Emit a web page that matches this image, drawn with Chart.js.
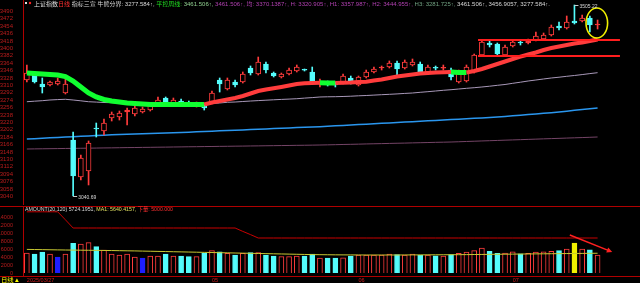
<!DOCTYPE html>
<html>
<head>
<meta charset="utf-8">
<script src="https://cdn.jsdelivr.net/npm/chart.js@4.4.1/dist/chart.umd.min.js"></script>
<style>
html, body { margin: 0; padding: 0; background: #000; overflow: hidden; }
#wrap { position: relative; width: 640px; height: 283px; }
#priceBox { position: absolute; left: 0; top: 0; width: 640px; height: 205px; }
#volBox { position: absolute; left: 0; top: 205px; width: 640px; height: 78px; }
</style>
</head>
<body>
<div id="wrap">
  <div id="priceBox"><canvas id="priceChart"></canvas></div>
  <div id="volBox"><canvas id="volChart"></canvas></div>
</div>
<script>
// trading days
const dates = ['2025/03/27','2025/03/28','2025/03/31','2025/04/01','2025/04/02','2025/04/03','2025/04/07','2025/04/08','2025/04/09','2025/04/10','2025/04/11','2025/04/14','2025/04/15','2025/04/16','2025/04/17','2025/04/18','2025/04/21','2025/04/22','2025/04/23','2025/04/24','2025/04/25','2025/04/28','2025/04/29','2025/04/30','2025/05/06','2025/05/07','2025/05/08','2025/05/09','2025/05/12','2025/05/13','2025/05/14','2025/05/15','2025/05/16','2025/05/19','2025/05/20','2025/05/21','2025/05/22','2025/05/23','2025/05/26','2025/05/27','2025/05/28','2025/05/29','2025/05/30','2025/06/03','2025/06/04','2025/06/05','2025/06/06','2025/06/09','2025/06/10','2025/06/11','2025/06/12','2025/06/13','2025/06/16','2025/06/17','2025/06/18','2025/06/19','2025/06/20','2025/06/23','2025/06/24','2025/06/25','2025/06/26','2025/06/27','2025/06/30','2025/07/01','2025/07/02','2025/07/03','2025/07/04','2025/07/07','2025/07/08','2025/07/09','2025/07/10','2025/07/11','2025/07/14','2025/07/15','2025/07/16'];
const emptySlots = 5;

const opens = [3322.8,3335.0,3313.1,3310.7,3313.1,3291.2,3176.9,3086.9,3101.5,3206.1,
  3198.8,3230.4,3232.8,3245.0,3240.1,3245.0,3249.8,3266.9,3279.0,3266.9,
  3271.7,3266.9,3259.6,3259.6,3266.9,3322.8,3300.9,3317.9,3317.9,3352.0,
  3337.4,3361.7,3339.8,3330.1,3337.4,3344.7,3347.1,3342.3,3315.5,3316.0,
  3313.1,3315.5,3327.7,3310.7,3330.1,3342.3,3352.0,3354.4,3364.2,3352.0,
  3359.3,3361.7,3342.3,3352.0,3351.5,3347.1,3317.9,3320.4,3342.3,3383.6,
  3412.8,3410.4,3383.6,3405.5,3415.2,3412.8,3420.1,3422.5,3432.3,3454.1,
  3449.3,3466.3,3466.3,3473.6,3456.6];
const highs = [3359.3,3339.8,3327.7,3320.4,3327.7,3327.7,3196.4,3140.4,3174.5,3218.2,
  3228.0,3245.0,3247.4,3254.7,3259.6,3257.1,3266.9,3281.5,3281.5,3279.0,
  3276.6,3271.7,3269.3,3262.0,3296.1,3327.7,3327.7,3322.8,3342.3,3356.9,
  3378.7,3366.6,3342.3,3339.8,3352.0,3359.3,3349.6,3354.4,3325.2,3320.4,
  3317.9,3337.4,3332.5,3332.5,3347.1,3354.4,3356.9,3369.1,3369.1,3371.5,
  3373.9,3366.6,3359.3,3356.9,3359.3,3352.0,3347.1,3359.3,3386.0,3420.1,
  3417.7,3412.8,3407.9,3420.1,3420.1,3422.5,3439.5,3437.1,3456.6,3463.9,
  3478.5,3505.22,3480.9,3478.5,3468.7];
const lows = [3317.9,3315.5,3291.2,3308.2,3310.7,3288.8,3040.69,3079.6,3067.5,3184.2,
  3189.1,3223.1,3225.5,3213.4,3235.3,3242.6,3247.4,3262.0,3266.9,3264.4,
  3264.4,3259.6,3257.1,3249.8,3264.4,3293.6,3298.5,3305.8,3315.5,3335.0,
  3335.0,3339.8,3330.1,3327.7,3335.0,3342.3,3344.7,3313.1,3305.8,3308.2,
  3305.8,3313.1,3313.1,3308.2,3327.7,3339.8,3347.1,3352.0,3335.0,3349.6,
  3356.9,3337.4,3339.8,3347.1,3347.1,3322.8,3315.5,3317.9,3339.8,3381.2,
  3403.1,3383.6,3381.2,3403.1,3407.9,3410.4,3417.7,3420.1,3429.8,3444.4,
  3446.8,3459.0,3463.9,3439.5,3446.8];
const closes = [3339.8,3317.9,3305.8,3317.9,3320.4,3313.1,3089.4,3133.1,3169.6,3203.6,
  3218.2,3240.1,3242.6,3249.8,3254.7,3252.3,3262.0,3274.2,3269.3,3274.2,
  3269.3,3266.0,3266.9,3254.7,3291.2,3313.1,3322.8,3310.7,3337.4,3339.8,
  3366.6,3347.1,3332.5,3337.4,3347.1,3354.4,3346.5,3315.5,3316.0,3315.5,
  3310.7,3332.5,3315.5,3330.1,3342.3,3349.6,3352.5,3364.2,3349.6,3366.6,
  3366.6,3342.3,3354.4,3351.5,3352.0,3330.1,3342.3,3354.4,3383.6,3415.2,
  3407.9,3386.0,3403.1,3415.2,3412.8,3417.7,3429.8,3432.3,3451.7,3449.3,
  3463.9,3461.4,3473.6,3456.6,3459.0];

// moving lines of the price pane
const trendLine = [3339.8,3338.6,3337.4,3336.2,3335.0,3331.3,3320.4,3305.8,3291.2,3281.5,
  3275.4,3271.7,3269.3,3266.9,3265.7,3264.4,3263.2,3263.2,3263.2,3263.2,
  3263.2,3263.2,3263.2,3263.2,3268.1,3271.7,3275.4,3279.0,3283.9,3290.0,
  3296.1,3299.7,3302.6,3305.8,3309.4,3313.1,3314.8,3315.8,3316.3,3315.5,
  3315.5,3316.3,3316.7,3317.9,3318.7,3321.6,3324.0,3327.7,3331.3,3333.8,
  3336.2,3338.6,3339.8,3341.1,3341.8,3342.3,3341.1,3341.1,3344.7,3349.6,
  3355.7,3361.7,3367.8,3373.9,3379.5,3384.8,3389.7,3395.8,3400.6,3404.3,
  3407.9,3411.6,3414.0,3417.7,3421.3];
const ma60 = [3270.0,3271.3,3272.5,3274.2,3275.2,3275.9,3274.2,3272.2,3270.0,3269.1,
  3268.1,3267.6,3267.1,3266.4,3265.9,3265.2,3264.4,3263.9,3263.7,3263.2,
  3263.2,3263.5,3263.7,3264.4,3265.7,3266.9,3268.6,3269.3,3270.5,3271.7,
  3272.7,3273.7,3274.7,3275.6,3276.4,3277.3,3278.8,3280.0,3281.5,3282.0,
  3282.2,3282.7,3283.4,3284.4,3285.1,3286.1,3287.1,3288.0,3289.0,3290.2,
  3291.2,3292.9,3294.4,3296.1,3297.8,3299.2,3300.9,3302.6,3304.1,3305.8,
  3307.7,3309.9,3311.9,3314.8,3317.5,3320.4,3322.8,3325.3,3327.7,3329.6,
  3331.8,3333.8,3336.0,3338.4,3340.6];
const ma120 = [3179.3,3180.2,3181.2,3182.1,3183.0,3184.0,3184.9,3185.8,3186.8,3187.7,
  3188.7,3189.4,3190.0,3190.7,3191.4,3192.0,3192.7,3193.4,3194.0,3194.7,
  3195.4,3196.0,3196.7,3197.5,3198.3,3199.1,3199.9,3200.6,3201.4,3202.2,
  3203.0,3203.8,3204.6,3205.4,3206.2,3207.0,3207.8,3208.6,3209.4,3210.4,
  3211.4,3212.4,3213.4,3214.5,3215.5,3216.5,3217.5,3218.5,3219.5,3220.5,
  3221.5,3222.5,3223.6,3224.6,3225.6,3226.6,3227.6,3228.7,3229.7,3230.7,
  3231.8,3232.9,3234.3,3235.8,3237.3,3238.8,3240.3,3241.8,3243.3,3245.2,
  3247.1,3249.0,3250.9,3252.8,3254.7];
const ma250 = [3155.0,3155.3,3155.5,3155.8,3156.0,3156.3,3156.5,3156.8,3157.0,3157.3,
  3157.6,3157.8,3158.1,3158.4,3158.6,3158.9,3159.1,3159.4,3159.6,3159.9,
  3160.1,3160.4,3160.6,3160.9,3161.1,3161.4,3161.6,3161.9,3162.1,3162.4,
  3162.6,3162.9,3163.1,3163.4,3163.6,3163.9,3164.1,3164.4,3164.7,3165.1,
  3165.5,3166.0,3166.4,3166.8,3167.3,3167.7,3168.1,3168.6,3169.0,3169.4,
  3169.9,3170.3,3170.7,3171.2,3171.6,3172.0,3172.6,3173.3,3173.9,3174.6,
  3175.2,3175.8,3176.5,3177.1,3177.7,3178.4,3179.0,3179.7,3180.3,3180.9,
  3181.6,3182.2,3182.8,3183.5,3184.2];

// turnover pane (100 million yuan)
const amounts = [5000,4750,5250,4750,4000,4750,7400,7250,7600,6600,
  5750,4750,4500,4750,4000,3750,4250,4250,4750,4250,
  4250,4100,4100,4900,5600,5300,4900,4500,4900,5100,
  5100,4500,4250,4100,4100,4250,4250,4750,3750,3750,
  3750,3800,4250,4500,4500,4500,4500,4750,4600,4500,
  4700,4400,4500,4300,4200,4600,4900,5200,5600,6200,
  5400,4900,5000,5300,4800,4900,5200,5300,5400,5600,
  6000,7500,6000,5800,4500];
const amountMa = [5900,5870,5840,5810,5780,5750,5730,5700,5680,5660,
  5640,5610,5580,5550,5520,5480,5440,5400,5360,5320,
  5280,5240,5200,5160,5120,5080,5040,5000,4960,4920,
  4880,4840,4800,4760,4720,4680,4640,4600,4580,4560,
  4540,4530,4520,4510,4500,4500,4500,4500,4500,4510,
  4520,4530,4540,4550,4560,4570,4580,4600,4620,4640,
  4660,4680,4700,4720,4740,4760,4780,4800,4820,4840,
  4860,4880,4900,4920,4940];
const amountCap = [15300,15300,15300,15300,15300,13300,11250,11250,11250,11250,
  11250,11250,11250,11250,11250,11250,11250,11250,11250,11250,
  11250,11250,11250,11250,11250,11250,11250,11250,10400,9600,
  8750,8750,8750,8750,8750,8750,8750,8750,8750,8750,
  8750,8750,8750,8750,8750,8750,8750,8750,8750,8750,
  8750,8750,8750,8750,8750,8750,8750,8750,8750,8750,
  8750,8750,8750,8750,8750,8750,8750,8750,8750,8750,
  8750,8750,8750,8750,8750];
const blueBars = [4, 15];
const yellowBars = [71];

// axes
const priceTicks = [3040,3058,3076,3094,3112,3130,3148,3166,3184,3202,3220,3238,3256,3274,3292,3310,3328,3346,3364,3382,3400,3418,3436,3454,3472,3490];
const amountTicks = [0,2000,4000,6000,8000,10000,12000,14000];
const axisLabelIdx = [0, 24, 43, 63];
const axisLabelText = ['2025/03/27', '05', '06', '07'];

// drawn marks
const levels = [3420.1, 3381.2];
const levelSpan = [58.5, 76.9];
const circleSpan = [72.5, 75.3];
const circleRange = [3425, 3498];
const arrowFrom = [70.4, 9500];
const arrowTo = [75.9, 5250];

const headerParts = [
  ['上证指数', '#e0e0e0'],
  ['日线', '#ff3030'],
  [' 指标三宣 牛熊分界: 3277.584↑, ', '#d8d8d8'],
  ['平控周线: ', '#20e020'],
  ['3461.506↑, ', '#90d090'],
  ['3461.506↑, 均: 3370.1387↑, H: 3320.905↑, H1: 3357.987↑, H2: 3444.955↑, ', '#b040b0'],
  ['H3: 3281.725↑, ', '#70a080'],
  ['3461.506↑, 3456.9057, 3277.584↑.', '#d8d8d8']
];
const amountParts = [
  ['AMOUNT(20,120) 5724.1951, ', '#d8d8d8'],
  ['MA1: 5640.4157, ', '#e0e060'],
  ['下量: 5000.000', '#ff3030']
];

const RED = '#ff3c3c';
const CYAN = '#54fcfc';
const GREEN = '#10ff30';
const FRAME = '#b00000';
const FONT = '"Liberation Sans", "Noto Sans CJK SC", sans-serif';

Chart.defaults.font.family = FONT;

const labels = dates.concat(Array(emptySlots).fill(''));
const isUp = i => closes[i] >= opens[i];

function drawRun(ctx, parts, x0, x1, yMid, size) {
  ctx.save();
  ctx.font = size + 'px ' + FONT;
  ctx.textBaseline = 'middle';
  ctx.textAlign = 'left';
  const total = parts.reduce((s, p) => s + ctx.measureText(p[0]).width, 0);
  ctx.translate(x0, yMid);
  ctx.scale((x1 - x0) / total, 1);
  let cx = 0;
  parts.forEach(([t, c]) => {
    ctx.fillStyle = c;
    ctx.fillText(t, cx, 0);
    cx += ctx.measureText(t).width;
  });
  ctx.restore();
}

const fixedAxis = s => { s.width = 23; s.paddingTop = 0; s.paddingBottom = 0; };

const priceDecor = {
  id: 'priceDecor',
  afterDatasetsDraw(chart) {
    const { ctx, scales: { x, y } } = chart;
    ctx.save();
    ctx.strokeStyle = FRAME;
    ctx.lineWidth = 1;
    ctx.beginPath(); ctx.moveTo(23.5, 0); ctx.lineTo(23.5, chart.height); ctx.stroke();

    // horizontal levels
    ctx.strokeStyle = '#ff1e1e';
    ctx.lineWidth = 2;
    levels.forEach(v => {
      const py = y.getPixelForValue(v);
      ctx.beginPath();
      ctx.moveTo(x.getPixelForValue(levelSpan[0]), py);
      ctx.lineTo(x.getPixelForValue(levelSpan[1]), py);
      ctx.stroke();
    });

    // yellow ring
    const ex0 = x.getPixelForValue(circleSpan[0]), ex1 = x.getPixelForValue(circleSpan[1]);
    const ey0 = y.getPixelForValue(circleRange[1]), ey1 = y.getPixelForValue(circleRange[0]);
    ctx.strokeStyle = '#f0f000';
    ctx.lineWidth = 1.6;
    ctx.beginPath();
    ctx.ellipse((ex0 + ex1) / 2, (ey0 + ey1) / 2, (ex1 - ex0) / 2, (ey1 - ey0) / 2, 0, 0, Math.PI * 2);
    ctx.stroke();

    // high / low marks
    const hi = highs.indexOf(Math.max(...highs));
    const lo = lows.indexOf(Math.min(...lows));
    ctx.strokeStyle = '#c8c8c8';
    ctx.fillStyle = '#d8d8d8';
    ctx.lineWidth = 1;
    ctx.font = '5px ' + FONT;
    ctx.textBaseline = 'middle';
    ctx.textAlign = 'left';
    [[hi, highs[hi]], [lo, lows[lo]]].forEach(([i, v]) => {
      const px = x.getPixelForValue(i);
      const py = Math.round(y.getPixelForValue(v)) + 0.5;
      ctx.beginPath(); ctx.moveTo(px, py); ctx.lineTo(px + 4, py); ctx.stroke();
      ctx.fillText(v.toFixed(2), px + 5, py + 1.5);
    });

    ctx.fillStyle = '#e0e0e0';
    ctx.fillRect(25, 2, 2, 2);
    ctx.fillStyle = '#ff2020';
    ctx.beginPath(); ctx.arc(30, 3, 1.2, 0, Math.PI * 2); ctx.fill();
    drawRun(ctx, headerParts, 34, 550, 4.5, 5.5);
    ctx.restore();
  }
};

const volDecor = {
  id: 'volDecor',
  afterDatasetsDraw(chart) {
    const { ctx, chartArea, scales: { x, y } } = chart;
    ctx.save();
    ctx.strokeStyle = FRAME;
    ctx.lineWidth = 1;
    ctx.beginPath();
    ctx.moveTo(0, 1.5); ctx.lineTo(chart.width, 1.5);
    ctx.moveTo(0, chartArea.bottom + 0.5); ctx.lineTo(chart.width, chartArea.bottom + 0.5);
    ctx.moveTo(23.5, 1); ctx.lineTo(23.5, chartArea.bottom);
    ctx.stroke();

    // arrow
    const ax0 = x.getPixelForValue(arrowFrom[0]), ay0 = y.getPixelForValue(arrowFrom[1]);
    const ax1 = x.getPixelForValue(arrowTo[0]), ay1 = y.getPixelForValue(arrowTo[1]);
    const a = Math.atan2(ay1 - ay0, ax1 - ax0);
    ctx.strokeStyle = '#ff2020';
    ctx.fillStyle = '#ff2020';
    ctx.lineWidth = 1.5;
    ctx.beginPath(); ctx.moveTo(ax0, ay0); ctx.lineTo(ax1 - 3 * Math.cos(a), ay1 - 3 * Math.sin(a)); ctx.stroke();
    ctx.beginPath();
    ctx.moveTo(ax1, ay1);
    ctx.lineTo(ax1 - 6 * Math.cos(a - 0.45), ay1 - 6 * Math.sin(a - 0.45));
    ctx.lineTo(ax1 - 6 * Math.cos(a + 0.45), ay1 - 6 * Math.sin(a + 0.45));
    ctx.closePath();
    ctx.fill();

    // date labels under the pane
    ctx.font = '5.5px ' + FONT;
    ctx.fillStyle = '#d01c1c';
    ctx.textAlign = 'left';
    ctx.textBaseline = 'middle';
    axisLabelIdx.forEach((idx, k) => {
      ctx.fillText(axisLabelText[k], x.getPixelForValue(idx), chartArea.bottom + 4.5);
    });

    drawRun(ctx, amountParts, 25, 173, 4.5, 5.5);
    drawRun(ctx, [['日线▲', '#ffff00']], 1, 20, chartArea.bottom + 4.5, 6);
    ctx.restore();
  }
};

// price pane
new Chart(document.getElementById('priceChart'), {
  type: 'bar',
  data: {
    labels: labels,
    datasets: [
      {
        type: 'line', label: 'trend', data: trendLine, order: 0,
        borderColor: RED, borderWidth: 4, pointRadius: 0,
        segment: {
          borderColor: c => c.p1.parsed.y <= c.p0.parsed.y ? GREEN : RED,
          borderWidth: c => c.p1.parsed.y <= c.p0.parsed.y ? 5 : 4
        }
      },
      {
        label: 'body', data: opens.map((o, i) => [o, closes[i]]), order: 1,
        grouped: false, barThickness: 5, minBarLength: 1, borderSkipped: false, borderWidth: 1,
        borderColor: c => isUp(c.dataIndex) ? RED : CYAN,
        backgroundColor: c => {
          const i = c.dataIndex;
          if (!isUp(i)) return CYAN;
          return Math.abs(closes[i] - opens[i]) < 5 ? RED : '#000';
        }
      },
      {
        label: 'wick', data: lows.map((l, i) => [l, highs[i]]), order: 2,
        grouped: false, barThickness: 1, borderWidth: 0,
        backgroundColor: c => isUp(c.dataIndex) ? RED : CYAN
      },
      { type: 'line', label: 'MA60', data: ma60, order: 5, borderColor: '#a898b8', borderWidth: 1, pointRadius: 0 },
      { type: 'line', label: 'MA120', data: ma120, order: 5, borderColor: '#2a96ee', borderWidth: 1.5, pointRadius: 0 },
      { type: 'line', label: 'MA250', data: ma250, order: 5, borderColor: '#744466', borderWidth: 1, pointRadius: 0 }
    ]
  },
  options: {
    responsive: true,
    maintainAspectRatio: false,
    animation: false,
    layout: { padding: 0 },
    plugins: { legend: { display: false }, tooltip: { enabled: false } },
    scales: {
      x: { display: false, offset: true },
      y: {
        position: 'left', min: 3018.8, max: 3517.4,
        grid: { display: false }, border: { display: false },
        afterBuildTicks: s => { s.ticks = priceTicks.map(v => ({ value: v })); },
        afterFit: fixedAxis,
        ticks: { autoSkip: false, padding: 2, color: '#b81c1c', font: { size: 6 }, callback: v => String(v) }
      }
    }
  },
  plugins: [priceDecor]
});

// turnover pane
new Chart(document.getElementById('volChart'), {
  type: 'bar',
  data: {
    labels: labels,
    datasets: [
      { type: 'line', label: 'cap', data: amountCap, order: 0, borderColor: '#c80000', borderWidth: 1, pointRadius: 0 },
      { type: 'line', label: 'MA1', data: amountMa, order: 1, borderColor: '#c8c832', borderWidth: 1, pointRadius: 0 },
      {
        label: 'AMOUNT', data: amounts, order: 2, barThickness: 5, borderWidth: 1,
        backgroundColor: c => {
          const i = c.dataIndex;
          if (yellowBars.includes(i)) return '#f0f000';
          if (blueBars.includes(i)) return '#1e1eff';
          return isUp(i) ? '#000' : CYAN;
        },
        borderColor: c => {
          const i = c.dataIndex;
          if (yellowBars.includes(i)) return '#f0f000';
          if (blueBars.includes(i)) return '#1e1eff';
          return isUp(i) ? RED : CYAN;
        }
      }
    ]
  },
  options: {
    responsive: true,
    maintainAspectRatio: false,
    animation: false,
    layout: { padding: { bottom: 7 } },
    plugins: { legend: { display: false }, tooltip: { enabled: false } },
    scales: {
      x: { display: false, offset: true },
      y: {
        position: 'left', min: -750, max: 17000,
        grid: { display: false }, border: { display: false },
        afterBuildTicks: s => { s.ticks = amountTicks.map(v => ({ value: v })); },
        afterFit: fixedAxis,
        ticks: { autoSkip: false, padding: 2, color: '#b81c1c', font: { size: 5.5 }, callback: v => String(v) }
      }
    }
  },
  plugins: [volDecor]
});
</script>
</body>
</html>
